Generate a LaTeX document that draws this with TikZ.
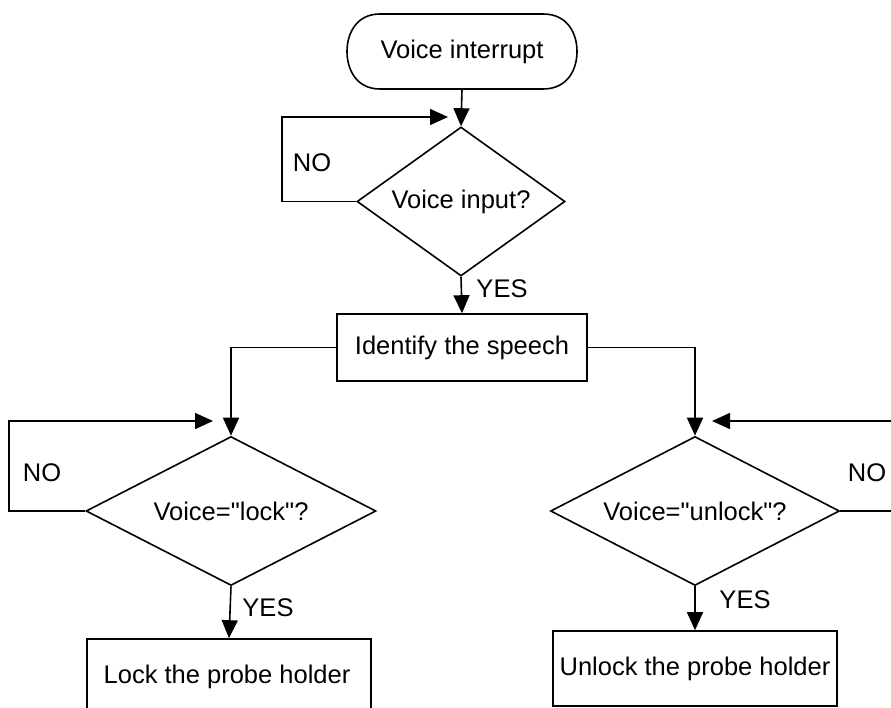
\documentclass[tikz,border=0pt]{standalone}
\usepackage{fontspec}
\setmainfont{Liberation Sans}[Ligatures=TeXOff]
\usetikzlibrary{arrows.meta,shapes.geometric}

\tikzset{
  base/.style={line width=1.6pt, draw=black},
  label text/.style={font=\fontsize{25.5}{30}\selectfont, inner sep=0pt},
  decision/.style={base, diamond, inner sep=0pt, label text},
  process/.style={base, rectangle, inner sep=0pt, label text},
  flow/.style={base, -{Triangle[length=18pt,width=16pt]}},
  link/.style={base},
  tag/.style={label text}
}

\begin{document}
\begin{tikzpicture}[x=1pt,y=-1pt]
  \useasboundingbox (0,0) rectangle (891,708);
  \clip (0,0) rectangle (891,708);

  % start terminal: straight top and bottom, bulging sides
  \node[label text, minimum width=230pt, minimum height=75pt] (term) at (462,51.5) {Voice interrupt};
  \draw[base] (380,14) -- (543,14)
    .. controls (568,14) and (577,34) .. (577,51.5)
    .. controls (577,69) and (568,89) .. (543,89)
    -- (380,89)
    .. controls (356,89) and (347,69) .. (347,51.5)
    .. controls (347,34) and (356,14) .. (380,14);

  % decisions and process boxes
  \node[decision, aspect=1.4, minimum width=208pt, minimum height=149pt] (d1) at (461,201.5) {Voice input?};
  \node[process, minimum width=250pt, minimum height=67pt] (p1) at (462,347.5) {Identify the speech};
  \node[decision, aspect=1.95, minimum width=290pt, minimum height=149pt] (d2) at (231,511) {Voice="lock"?};
  \node[decision, aspect=1.95, minimum width=289pt, minimum height=149pt] (d3) at (695,511) {Voice="unlock"?};
  \node[process, minimum width=284pt, minimum height=80pt] (p2) at (229,679) {};
  \node[tag] at (227,677) {Lock the probe holder};
  \node[process, minimum width=284pt, minimum height=75pt] (p3) at (695,668.5) {Unlock the probe holder};

  % loop-back corners and arrow ends
  \coordinate (n1a) at (282,201.5);
  \coordinate (n1b) at (282,117);
  \coordinate (n1e) at (448,117);
  \coordinate (n2a) at (9,511);
  \coordinate (n2b) at (9,421);
  \coordinate (n2e) at (213,421);
  \coordinate (n3a) at (910,511);
  \coordinate (n3b) at (910,421);
  \coordinate (n3e) at (712,421);
  \coordinate (sl) at (231,347.5);
  \coordinate (sr) at (695,347.5);

  % main flow
  \draw[flow] (term.south) -- (d1.north);
  \draw[flow] (d1.south) -- (p1.north);
  \draw[link] (p1.west) -- (sl);
  \draw[flow] (sl) -- (d2.north);
  \draw[link] (p1.east) -- (sr);
  \draw[flow] (sr) -- (d3.north);
  \draw[flow] (d2.south) -- (p2.north);
  \draw[flow] (d3.south) -- (p3.north);

  % NO loops
  \draw[flow] (d1.west) -- (n1a) -- (n1b) -- (n1e);
  \draw[flow] (d2.west) -- (n2a) -- (n2b) -- (n2e);
  \draw[flow] (d3.east) -- (n3a) -- (n3b) -- (n3e);

  % branch labels
  \node[tag] at (312,163) {NO};
  \node[tag] at (502,289) {YES};
  \node[tag] at (42,473) {NO};
  \node[tag] at (268,608) {YES};
  \node[tag] at (867,473) {NO};
  \node[tag] at (745,600) {YES};
\end{tikzpicture}
\end{document}
